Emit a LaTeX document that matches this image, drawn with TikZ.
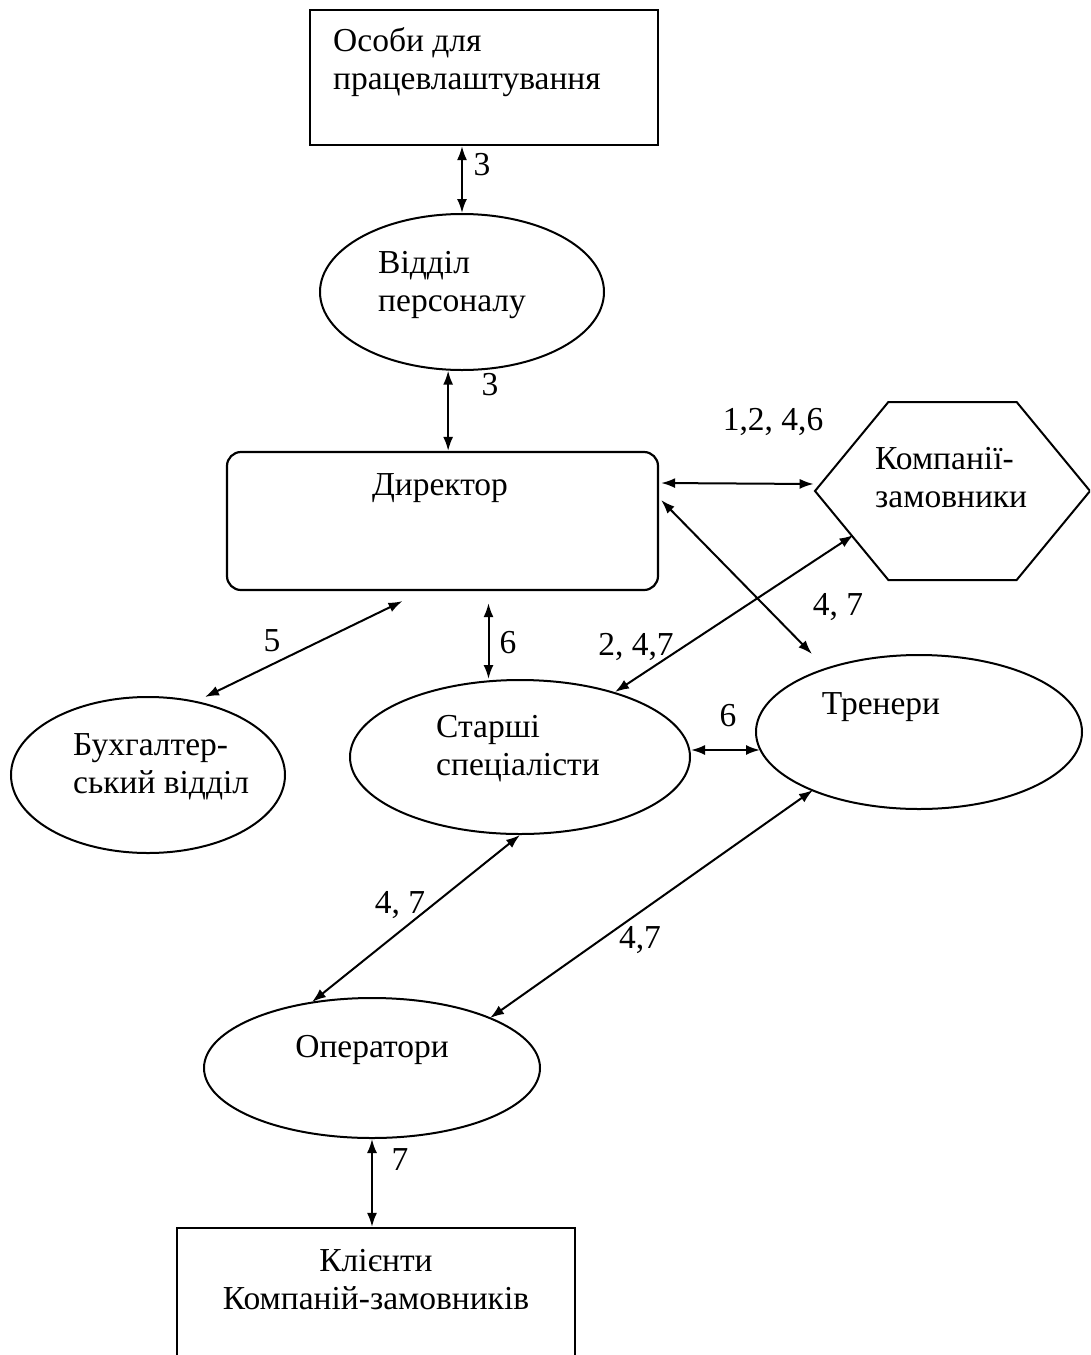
\documentclass[tikz,border=0pt]{standalone}
\usepackage{fontspec}
\setmainfont{Liberation Serif}
\usetikzlibrary{shapes.geometric,shapes.symbols,arrows.meta,calc}
\begin{document}
\begin{tikzpicture}[x=1pt,y=-1pt,
  box/.style={draw,line width=2.2pt,inner sep=0pt},
  oval/.style={ellipse,draw,line width=2pt,inner sep=0pt},
  txt/.style={font=\fontsize{33.5}{38}\selectfont,inner sep=0pt,align=left},
  lbl/.style={font=\fontsize{33.5}{38}\selectfont,inner sep=0pt},
  link/.style={<->,>={Latex[length=14pt,width=10pt]},line width=2pt}]
\useasboundingbox (0,0) rectangle (1090,1355);
\clip (0,0) rectangle (1090,1355);
\fill[white] (0,0) rectangle (1090,1355);

% shapes
\node[box,minimum width=348pt,minimum height=135pt] (osoby) at (484,77.5) {};
\node[txt,anchor=west] (osobyT) at (333,62) {Особи для\\працевлаштування};
\node[oval,minimum width=284pt,minimum height=156pt] (vp) at (462,292) {};
\node[txt,anchor=west] (vpT) at (378,285) {Відділ\\персоналу};
\node[box,rounded corners=14pt,minimum width=431pt,minimum height=138pt] (dir) at (442.5,521) {};
\node[lbl] (dirT) at (440,488) {Директор};
\node[draw,line width=2pt,signal,signal to=west and east,signal pointer angle=101,
      minimum width=275pt,minimum height=178pt,inner sep=0pt] (hex) at (952.5,491) {};
\node[txt,anchor=west] (hexT) at (875,478) {Компанії-\\замовники};
\node[oval,minimum width=340pt,minimum height=154pt] (ss) at (520,757) {};
\node[txt,anchor=west] (ssT) at (436,749) {Старші\\спеціалісти};
\node[oval,minimum width=326pt,minimum height=154pt] (tr) at (919,732) {};
\node[lbl] (trT) at (881,707) {Тренери};
\node[oval,minimum width=274pt,minimum height=156pt] (bux) at (148,775) {};
\node[txt,anchor=west] (buxT) at (73,767) {Бухгалтер-\\ський відділ};
\node[oval,minimum width=336pt,minimum height=140pt] (op) at (372,1068) {};
\node[lbl] (opT) at (372,1050) {Оператори};
\node[box,minimum width=398pt,minimum height=160pt] (cl) at (376,1308) {};
\node[txt,align=center] (clT) at (376,1280) {Клієнти\\Компаній-замовників};

% connectors
\draw[link] (osoby.south -| vp.north) -- (vp.north);
\draw[link] (vp.-100) -- (vp.-100 |- dir.north);
\draw[link] ($(dir.east)+(2,-38)$) -- ($(hex.west)+(0,-7)$);
\draw[link] ($(dir.east)+(2,-21)$) -- ($(tr.center)+(-107,-78)$);
\draw[link] ($(hex.center)+(-99,44)$) -- ($(ss.center)+(95,-65)$);
\draw[link] ($(dir.south)+(-40,10)$) -- ($(bux.center)+(57,-78)$);
\coordinate (d6) at ($(dir.south)+(46,12)$);
\draw[link] (d6) -- (d6 |- ss.north);
\draw[link] ($(ss.east)+(0,-7)$) -- ($(tr.center)+(-159,18)$);
\draw[link] ($(ss.center)+(0,78)$) -- ($(op.center)+(-60,-66)$);
\draw[link] ($(tr.center)+(-106,58)$) -- ($(op.center)+(118,-50)$);
\draw[link] (op.south) -- (op.south |- cl.north);

% labels
\node[lbl] (l1) at (482,165) {3};
\node[lbl] (l2) at (490,385) {3};
\node[lbl] (l3) at (773,422) {1,2, 4,6};
\node[lbl] (l4) at (838,607) {4, 7};
\node[lbl] (l5) at (636,647) {2, 4,7};
\node[lbl] (l6) at (272,641) {5};
\node[lbl] (l7) at (508,643) {6};
\node[lbl] (l8) at (728,716) {6};
\node[lbl] (l9) at (400,905) {4, 7};
\node[lbl] (l10) at (640,940) {4,7};
\node[lbl] (l11) at (400,1160) {7};
\end{tikzpicture}
\end{document}
